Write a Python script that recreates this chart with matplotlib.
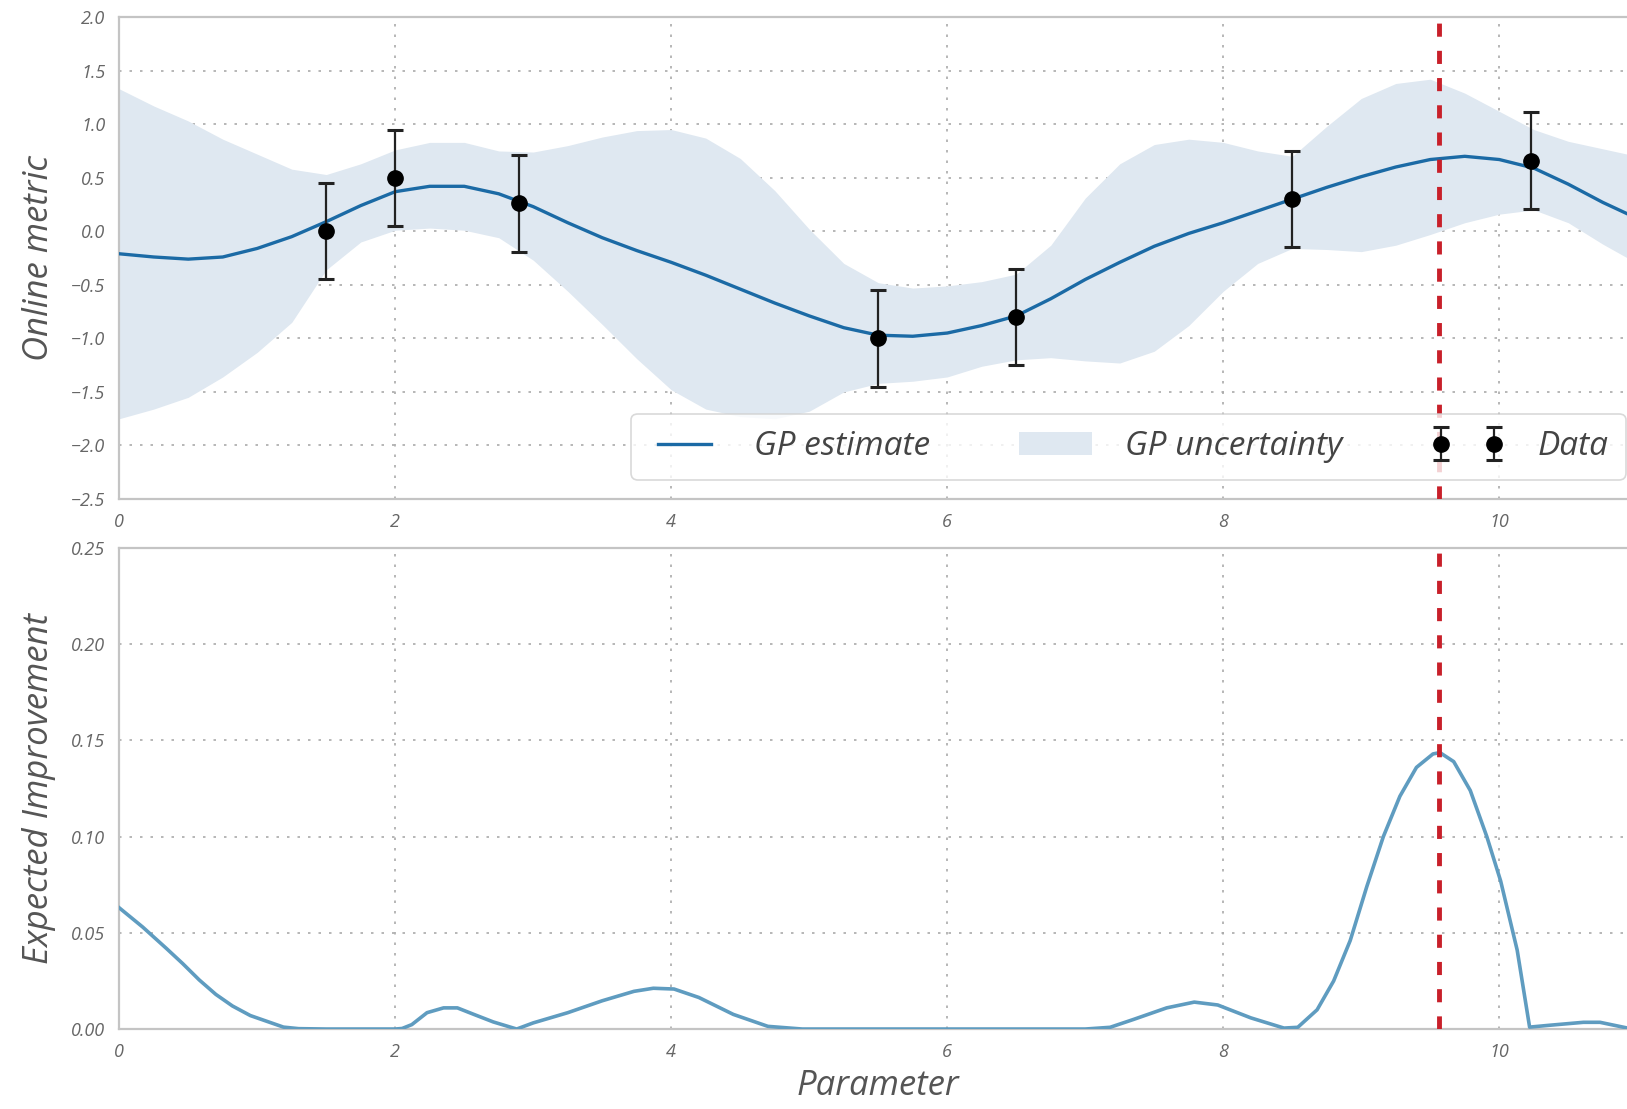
import numpy as np
import matplotlib.pyplot as plt

# observed metric values with noise bars
obs_x = [1.5, 2.0, 2.9, 5.5, 6.5, 8.5, 10.23]
obs_y = [0.0, 0.5, 0.26, -1.0, -0.8, 0.3, 0.66]
obs_err = [0.45, 0.45, 0.45, 0.45, 0.45, 0.45, 0.45]

# GP posterior mean and uncertainty band
gp_x = [0.0, 0.25, 0.5, 0.75, 1.0, 1.25, 1.5, 1.75, 2.0, 2.25, 2.5, 2.75,
        3.0, 3.25, 3.5, 3.75, 4.0, 4.25, 4.5, 4.75, 5.0, 5.25, 5.5, 5.75,
        6.0, 6.25, 6.5, 6.75, 7.0, 7.25, 7.5, 7.75, 8.0, 8.25, 8.5, 8.75,
        9.0, 9.25, 9.5, 9.75, 10.0, 10.25, 10.5, 10.75, 11.0]
gp_mean = [-0.21, -0.24, -0.26, -0.24, -0.16, -0.05, 0.09, 0.24, 0.37, 0.42, 0.42, 0.35,
           0.23, 0.08, -0.06, -0.18, -0.29, -0.41, -0.54, -0.67, -0.79, -0.90, -0.97, -0.98,
           -0.95, -0.88, -0.79, -0.63, -0.45, -0.29, -0.14, -0.02, 0.08, 0.19, 0.30, 0.41,
           0.51, 0.60, 0.67, 0.70, 0.67, 0.59, 0.44, 0.27, 0.12]
gp_upper = [1.33, 1.17, 1.03, 0.86, 0.72, 0.58, 0.53, 0.63, 0.76, 0.83, 0.83, 0.75,
            0.74, 0.80, 0.88, 0.94, 0.95, 0.87, 0.68, 0.38, 0.02, -0.30, -0.48, -0.53,
            -0.51, -0.47, -0.40, -0.13, 0.31, 0.63, 0.81, 0.86, 0.83, 0.75, 0.70, 0.98,
            1.24, 1.38, 1.42, 1.29, 1.12, 0.95, 0.84, 0.77, 0.70]
gp_lower = [-1.75, -1.66, -1.55, -1.36, -1.13, -0.85, -0.36, -0.10, 0.01, 0.03, 0.01, -0.06,
            -0.27, -0.56, -0.87, -1.19, -1.48, -1.66, -1.73, -1.75, -1.68, -1.50, -1.42, -1.40,
            -1.36, -1.26, -1.20, -1.18, -1.21, -1.23, -1.12, -0.88, -0.56, -0.30, -0.16, -0.17,
            -0.19, -0.13, -0.03, 0.08, 0.16, 0.20, 0.08, -0.12, -0.30]

# expected improvement acquisition
ei_x = [0.0, 0.17, 0.34, 0.46, 0.58, 0.7, 0.82, 0.95, 1.07, 1.19, 1.3, 1.5,
        2.0, 2.05, 2.12, 2.23, 2.35, 2.45, 2.57, 2.71, 2.88, 3.0, 3.25, 3.5,
        3.73, 3.87, 4.02, 4.2, 4.45, 4.7, 4.95, 7.0, 7.18, 7.35, 7.59, 7.79,
        7.96, 8.2, 8.44, 8.54, 8.68, 8.8, 8.92, 9.04, 9.16, 9.28, 9.4, 9.52,
        9.57, 9.67, 9.79, 9.91, 10.01, 10.13, 10.22, 10.37, 10.61, 10.73, 10.93, 11.0]
ei_val = [0.063, 0.053, 0.042, 0.034, 0.0255, 0.018, 0.012, 0.007, 0.004, 0.001, 0.0002, 0.0,
          0.0, 0.0003, 0.0023, 0.0085, 0.011, 0.011, 0.0076, 0.0037, 0.0, 0.0032, 0.0085, 0.0147,
          0.0196, 0.0212, 0.0208, 0.0164, 0.0076, 0.0014, 0.0, 0.0, 0.0009, 0.005, 0.011, 0.014,
          0.0125, 0.0058, 0.0005, 0.0009, 0.01, 0.025, 0.046, 0.074, 0.10, 0.121, 0.136, 0.143,
          0.1437, 0.139, 0.124, 0.10, 0.077, 0.041, 0.001, 0.002, 0.0035, 0.0035, 0.0005, 0.0]

next_x = 9.56

x_ticks = [0, 2, 4, 6, 8, 10]
top_yticks = [2.0, 1.5, 1.0, 0.5, 0.0, -0.5, -1.0, -1.5, -2.0, -2.5]
bot_yticks = [0.0, 0.05, 0.10, 0.15, 0.20, 0.25]

FONT = 'Open Sans'
grid_ls = (0, (1.5, 4.8))
tick_color = '#666666'
label_color = '#555555'

fig = plt.figure(figsize=(16.27, 11.09), dpi=100)
ax1 = fig.add_axes([0.0733, 0.550, 0.933, 0.4346])
ax2 = fig.add_axes([0.0733, 0.0721, 0.933, 0.4337])

band = ax1.fill_between(gp_x, gp_lower, gp_upper, color='#dfe8f1', lw=0, zorder=1)
mean_line, = ax1.plot(gp_x, gp_mean, color='#1b6aa5', lw=2.4, zorder=3)
data = ax1.errorbar(obs_x, obs_y, yerr=obs_err, fmt='o', color='black', ecolor='#222222',
                    ms=11, elinewidth=1.6, capsize=5.5, capthick=2.2, zorder=4)
ax1.axvline(next_x, color='#c8202a', lw=3.5, dashes=(2.7, 2.9), zorder=5)

ax2.plot(ei_x, ei_val, color='#5f9cc0', lw=2.6, zorder=3)
ax2.axvline(next_x, color='#c8202a', lw=3.5, dashes=(2.7, 2.9), zorder=5)

for ax, yt, fmt in [(ax1, top_yticks, '{:.1f}'), (ax2, bot_yticks, '{:.2f}')]:
    ax.set_xlim(0, 11)
    ax.set_xticks(x_ticks)
    ax.set_xticklabels([str(t) for t in x_ticks])
    ax.set_yticks(yt)
    ax.set_yticklabels([fmt.format(t).replace('-', '\u2212') for t in yt])
    ax.grid(True, color='#aaaaaa', lw=1.2, linestyle=grid_ls, zorder=0)
    ax.set_axisbelow(True)
    ax.tick_params(length=0, pad=10, colors=tick_color, labelsize=13)
    for lab in ax.get_xticklabels() + ax.get_yticklabels():
        lab.set_fontfamily(FONT)
        lab.set_fontstyle('italic')
    for sp in ax.spines.values():
        sp.set_color('#c4c4c4')
        sp.set_linewidth(1.6)

ax1.set_ylim(-2.5, 2.0)
ax2.set_ylim(0, 0.25)

lab_kw = dict(fontsize=25, fontstyle='italic', family=FONT, color=label_color)
ax1.set_ylabel('Online metric', **lab_kw)
ax2.set_ylabel('Expected Improvement', **lab_kw)
ax2.set_xlabel('Parameter', labelpad=6, **lab_kw)
ax1.yaxis.set_label_coords(-0.042, 0.5)
ax2.yaxis.set_label_coords(-0.042, 0.5)

leg = ax1.legend([mean_line, band, data], ['GP estimate', 'GP uncertainty', 'Data'],
                 ncol=3, numpoints=2, loc='lower left',
                 bbox_to_anchor=(631 / 1627, 1 - 480 / 1109), bbox_transform=fig.transFigure,
                 borderaxespad=0, frameon=True, fancybox=True, handlelength=2.2,
                 handletextpad=1.0, columnspacing=2.65, borderpad=0.5,
                 prop={'family': FONT, 'style': 'italic', 'size': 24})
leg.set_zorder(10)
leg.get_frame().set_edgecolor('#d0d0d0')
leg.get_frame().set_linewidth(1.2)
for t in leg.get_texts():
    t.set_color('#444444')

fig.savefig('out.png', dpi=100)
